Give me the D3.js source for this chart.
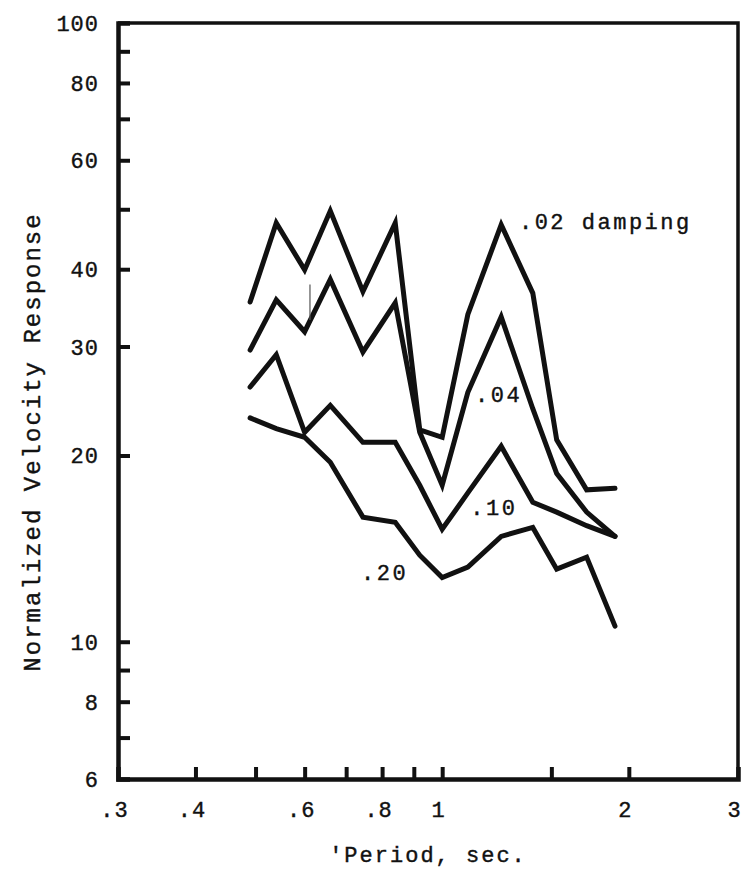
<!DOCTYPE html>
<html>
<head>
<meta charset="utf-8">
<script src="https://cdn.jsdelivr.net/npm/d3@7"></script>
<style>
  body { margin: 0; background: #fff; }
  text { font-family: "Liberation Mono", "DejaVu Sans Mono", monospace; fill: #111; stroke: #111; stroke-width: 0.4px; }
</style>
</head>
<body>
<div id="chart"></div>
<script>
//data
var periods = [0.49, 0.54, 0.60, 0.66, 0.745, 0.84, 0.92, 1.0, 1.1, 1.245, 1.4, 1.53, 1.71, 1.9];
var damp02 = [35.4, 47.5, 39.9, 49.7, 36.8, 47.5, 22.0, 21.4, 33.8, 47.2, 36.6, 21.2, 17.6, 17.7];
var damp04 = [29.6, 35.7, 31.7, 38.5, 29.4, 35.3, 21.8, 17.9, 25.3, 33.5, 23.8, 18.7, 16.2, 14.8];
var damp10 = [25.8, 29.1, 21.8, 24.1, 21.0, 21.0, 17.9, 15.2, 17.4, 20.7, 16.8, 16.2, 15.4, 14.8];
var damp20 = [23.0, 22.1, 21.4, 19.5, 15.9, 15.6, 13.8, 12.7, 13.2, 14.8, 15.3, 13.1, 13.7, 10.6];

var seriesNames = ['.02 damping', '.04', '.10', '.20'];
var seriesData = [damp02, damp04, damp10, damp20];

var xTicks = [0.4, 0.5, 0.6, 0.7, 0.8, 0.9, 1, 1.5, 2];
var xLabels = [0.3, 0.4, 0.6, 0.8, 1, 2, 3];
var yTicks = [7, 8, 9, 10, 20, 30, 40, 50, 60, 70, 80, 90];
var yLabels = [6, 8, 10, 20, 30, 40, 60, 80, 100];

//label anchor points (period, value)
var labelPos = [[1.33, 46.5], [1.13, 24.4], [1.11, 16.0], [0.74, 12.6]];

var width = 752, height = 871;
var margin = {top: 23, right: 14, bottom: 92, left: 118};
var w = width - margin.left - margin.right;
var h = height - margin.top - margin.bottom;

var x = d3.scaleLog().domain([0.3, 3]).range([0, w]);
var y = d3.scaleLog().domain([6, 100]).range([h, 0]);

var svg = d3.select('#chart').append('svg')
  .attr('width', width)
  .attr('height', height);

var g = svg.append('g')
  .attr('transform', 'translate(' + margin.left + ',' + margin.top + ')');

function fmt(d) {
  return d < 1 ? String(d).replace('0.', '.') : String(d);
}

//frame: top and right edges
g.append('path')
  .attr('d', 'M0,0H' + w + 'V' + h)
  .attr('fill', 'none')
  .attr('stroke', '#111')
  .attr('stroke-width', 3.5);

//x ticks (inward)
var xAxis = g.append('g')
  .attr('transform', 'translate(0,' + h + ')')
  .call(d3.axisBottom(x).tickValues(xTicks).tickSize(-12).tickFormat(''));
xAxis.select('.domain').attr('stroke-width', 4.5).attr('stroke', '#111');
xAxis.selectAll('.tick line').attr('stroke-width', 4).attr('stroke', '#111');

var xLab = g.append('g')
  .attr('transform', 'translate(0,' + h + ')')
  .call(d3.axisBottom(x).tickValues(xLabels).tickSize(0).tickFormat(fmt));
xLab.select('.domain').remove();
xLab.selectAll('text')
  .attr('y', 38).attr('dy', 0).attr('dx', -4)
  .attr('font-size', 22)
  .attr('letter-spacing', 1)
  .style('font-family', '"Liberation Mono", monospace')
  .attr('fill', '#111');

//y ticks (inward)
var yAxis = g.append('g')
  .call(d3.axisLeft(y).tickValues(yTicks).tickSize(-12).tickFormat(''));
yAxis.select('.domain').attr('stroke-width', 4.5).attr('stroke', '#111');
yAxis.selectAll('.tick line').attr('stroke-width', 4).attr('stroke', '#111');

var yLab = g.append('g')
  .call(d3.axisLeft(y).tickValues(yLabels).tickSize(0).tickFormat(fmt));
yLab.select('.domain').remove();
yLab.selectAll('text')
  .attr('x', -19)
  .attr('dy', '0.34em')
  .attr('font-size', 22)
  .attr('letter-spacing', 1)
  .style('font-family', '"Liberation Mono", monospace')
  .attr('fill', '#111');

//response curves
var line = d3.line()
  .x(function(d) { return x(d[0]); })
  .y(function(d) { return y(d[1]); });

g.selectAll('.curve')
  .data(seriesData)
  .enter().append('path')
  .attr('class', 'curve')
  .attr('d', function(vals) {
    return line(periods.map(function(p, i) { return [p, vals[i]]; }));
  })
  .attr('fill', 'none')
  .attr('stroke', '#111')
  .attr('stroke-width', 5)
  .attr('stroke-linejoin', 'miter')
  .attr('stroke-linecap', 'round');

//stray pen mark near .04 trough
g.append('line')
  .attr('x1', x(0.612)).attr('x2', x(0.612))
  .attr('y1', y(37.8)).attr('y2', y(33.1))
  .attr('stroke', '#555')
  .attr('stroke-width', 1.2);

//curve labels
g.selectAll('.lbl')
  .data(seriesNames)
  .enter().append('text')
  .attr('class', 'lbl')
  .attr('x', function(d, i) { return x(labelPos[i][0]); })
  .attr('y', function(d, i) { return y(labelPos[i][1]); })
  .attr('font-size', 22)
  .attr('letter-spacing', 2.5)
  .text(function(d) { return d; });

//axis titles
svg.append('text')
  .attr('transform', 'translate(40,' + 442 + ') rotate(-90)')
  .attr('text-anchor', 'middle')
  .attr('font-size', 24)
  .attr('letter-spacing', 2)
  .text('Normalized Velocity Response');

svg.append('text')
  .attr('x', 428)
  .attr('y', 862)
  .attr('text-anchor', 'middle')
  .attr('font-size', 22)
  .attr('letter-spacing', 2)
  .text("'Period, sec.");
</script>
</body>
</html>
